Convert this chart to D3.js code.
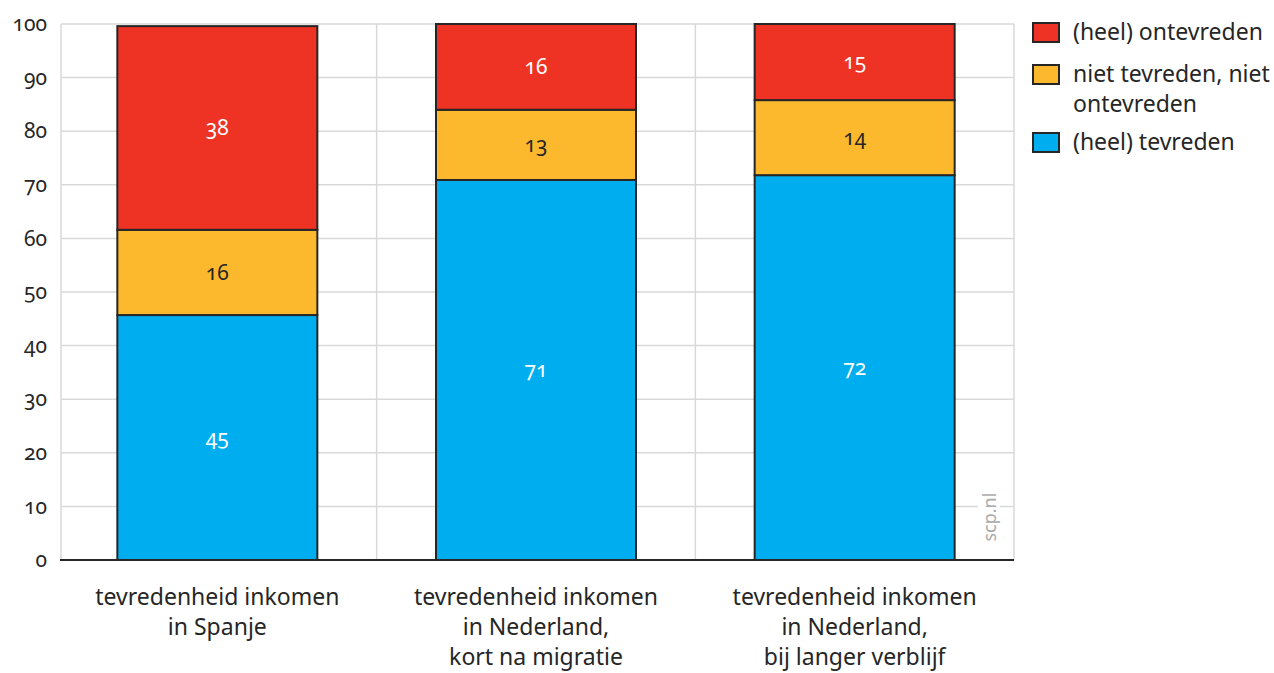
<!DOCTYPE html>
<html><head><meta charset="utf-8">
<script src="https://cdn.jsdelivr.net/npm/d3@7"></script>
<style>
body{margin:0;background:#fff;}
svg text{font-family:"Noto Sans","Open Sans",sans-serif;font-feature-settings:"onum" 1;font-variant-numeric:oldstyle-nums;fill:#262626;}
</style></head>
<body><svg id="c" width="1274" height="673"></svg>
<script>
const categories = [
  ["tevredenheid inkomen","in Spanje"],
  ["tevredenheid inkomen","in Nederland,","kort na migratie"],
  ["tevredenheid inkomen","in Nederland,","bij langer verblijf"]
];
const seriesNames = ["(heel) tevreden","niet tevreden, niet ontevreden","(heel) ontevreden"];
const seriesColors = ["#00aeef","#fdb92e","#ee3224"];
// bar segment heights
const tevreden   = [45.7, 70.9, 71.8];
const neutraal   = [15.9, 13.1, 14.0];
const ontevreden = [38.0, 16.0, 14.2];
// printed labels
const tevredenLabels   = [45, 71, 72];
const neutraalLabels   = [16, 13, 14];
const ontevredenLabels = [38, 16, 15];
const yTicks = [0,10,20,30,40,50,60,70,80,90,100];

const svg = d3.select("#c");
const L = 58, R = 1014, T = 24, B = 560;
const x = d3.scaleBand().domain(d3.range(categories.length)).range([L, R]).paddingInner(0).paddingOuter(0);
const y = d3.scaleLinear().domain([0,100]).range([B, T]);
const barW = 200;

// grid
const g = svg.append("g");
g.selectAll(".hg").data(yTicks.filter(d=>d>0)).join("line")
  .attr("x1",L+3).attr("x2",R).attr("y1",d=>y(d)).attr("y2",d=>y(d))
  .attr("stroke","#d9d9d9").attr("stroke-width",1.5);
const vlines = [L+3, ...d3.range(1,categories.length).map(i=>x(i)), R];
g.selectAll(".vg").data(vlines).join("line")
  .attr("x1",d=>d).attr("x2",d=>d).attr("y1",T).attr("y2",B)
  .attr("stroke","#d9d9d9").attr("stroke-width",1.5);

// y axis labels
const yAxis = d3.axisLeft(y).tickValues(yTicks).tickSize(0).tickPadding(11);
const ya = svg.append("g").attr("transform",`translate(${L},0)`).call(yAxis);
ya.select(".domain").remove();
ya.selectAll("text").attr("font-size",21).attr("font-family",null).attr("fill","#262626").attr("dy","0.32em");

// watermark
const wm = svg.append("g").attr("transform",`translate(${R-24},${y(8)}) rotate(-90)`);
wm.append("rect").attr("x",-32).attr("y",-12).attr("width",64).attr("height",22).attr("fill","#fff");
wm.append("text").attr("text-anchor","middle").attr("dy","0.35em").attr("font-size",18).style("fill","#aaaaaa").text("scp.nl");

// stacked bars
const stackData = categories.map((c,i)=>({i, a:tevreden[i], b:neutraal[i], c:ontevreden[i]}));
const stack = d3.stack().keys(["a","b","c"])(stackData);
const labels = [tevredenLabels, neutraalLabels, ontevredenLabels];
const textColors = ["#fff","#262626","#fff"];
stack.forEach((layer,k)=>{
  const lg = svg.append("g");
  lg.selectAll("rect").data(layer).join("rect")
    .attr("x",d=>x(d.data.i)+x.bandwidth()/2-barW/2)
    .attr("width",barW)
    .attr("y",d=>y(d[1])).attr("height",d=>y(d[0])-y(d[1]))
    .attr("fill",seriesColors[k]).attr("stroke","#262626").attr("stroke-width",2);
  lg.selectAll("text").data(layer).join("text")
    .attr("x",d=>x(d.data.i)+x.bandwidth()/2)
    .attr("y",d=>(y(d[0])+y(d[1]))/2)
    .attr("dy","0.35em").attr("text-anchor","middle").attr("font-size",21)
    .style("fill",textColors[k])
    .text(d=>labels[k][d.data.i]);
});

// baseline
svg.append("line").attr("x1",L+2).attr("x2",R).attr("y1",B).attr("y2",B).attr("stroke","#262626").attr("stroke-width",2);

// category labels
categories.forEach((lines,i)=>{
  const t = svg.append("text").attr("text-anchor","middle").attr("font-size",23)
    .attr("x",x(i)+x.bandwidth()/2).attr("y",605);
  lines.forEach((ln,j)=>t.append("tspan").attr("x",x(i)+x.bandwidth()/2).attr("dy",j===0?0:30).text(ln));
});

// legend
const legendItems = [
  {name:["(heel) ontevreden"], color:seriesColors[2], y:23},
  {name:["niet tevreden, niet","ontevreden"], color:seriesColors[1], y:65},
  {name:["(heel) tevreden"], color:seriesColors[0], y:133}
];
const lgd = svg.append("g");
legendItems.forEach(it=>{
  lgd.append("rect").attr("x",1033).attr("y",it.y).attr("width",26).attr("height",19)
    .attr("fill",it.color).attr("stroke","#262626").attr("stroke-width",2);
  const t = lgd.append("text").attr("x",1073).attr("y",it.y+17).attr("font-size",23);
  it.name.forEach((ln,j)=>t.append("tspan").attr("x",1073).attr("dy",j===0?0:30).text(ln));
});
</script></body></html>
